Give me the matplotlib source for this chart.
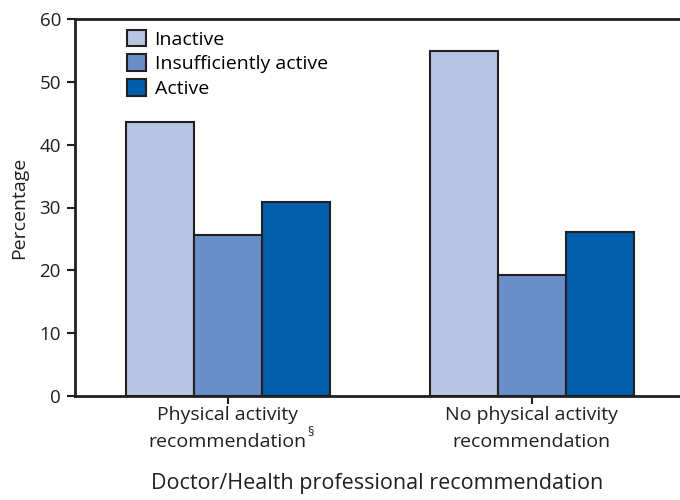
import matplotlib
matplotlib.use("Agg")
import matplotlib.pyplot as plt
import numpy as np

plt.rcParams['font.family'] = ['Open Sans', 'DejaVu Sans']

groups = ["Physical activity\nrecommendation", "No physical activity\nrecommendation"]
footnote = "§"
series = ["Inactive", "Insufficiently active", "Active"]
values = {
    "Inactive": [43.6, 54.9],
    "Insufficiently active": [25.6, 19.2],
    "Active": [30.9, 26.1],
}
colors = ["#B8C6E4", "#6A8FC8", "#005DAA"]
edge = "#231F20"

fig = plt.figure(figsize=(6.8, 5.0), dpi=100)
ax = fig.add_axes([0.110, 0.208, 0.89, 0.754])

x = np.arange(len(groups))
width = 0.224
for i, s in enumerate(series):
    ax.bar(x + (i - 1) * width, values[s], width, color=colors[i], edgecolor=edge,
           linewidth=1.5, label=s, zorder=3)

ax.set_xlim(-0.503, 1.487)
ax.set_ylim(0, 60)
ax.set_yticks(range(0, 61, 10))
ax.set_xticks(x)
ax.set_xticklabels(groups, fontsize=14, color=edge, linespacing=1.65)
ax.tick_params(axis="y", labelsize=13.5, length=6, width=1.5, colors=edge, direction="out", pad=4)
ax.tick_params(axis="x", length=6, width=1.5, colors=edge, direction="out", pad=1)

for side in ["left", "top", "bottom"]:
    ax.spines[side].set_linewidth(2)
    ax.spines[side].set_color(edge)
ax.spines["right"].set_visible(False)

ax.set_ylabel("Percentage", fontsize=14, color=edge, labelpad=8)
ax.set_xlabel("Doctor/Health professional recommendation", fontsize=15.5, color=edge, labelpad=16)

leg = ax.legend(loc="upper left", bbox_to_anchor=(0.058, 1.018), frameon=False,
                fontsize=14, handlelength=0.95, handleheight=0.95, handletextpad=0.45,
                labelspacing=0.28)

# superscript footnote mark after the first category label
fig.canvas.draw()
bb = ax.get_xticklabels()[0].get_window_extent()
fig.text((bb.x1 + 0.5) / fig.bbox.width, (bb.y0 + 0.27 * bb.height) / fig.bbox.height,
         footnote, fontsize=9, color=edge, ha="left", va="bottom")

fig.savefig("out.png", dpi=100)
